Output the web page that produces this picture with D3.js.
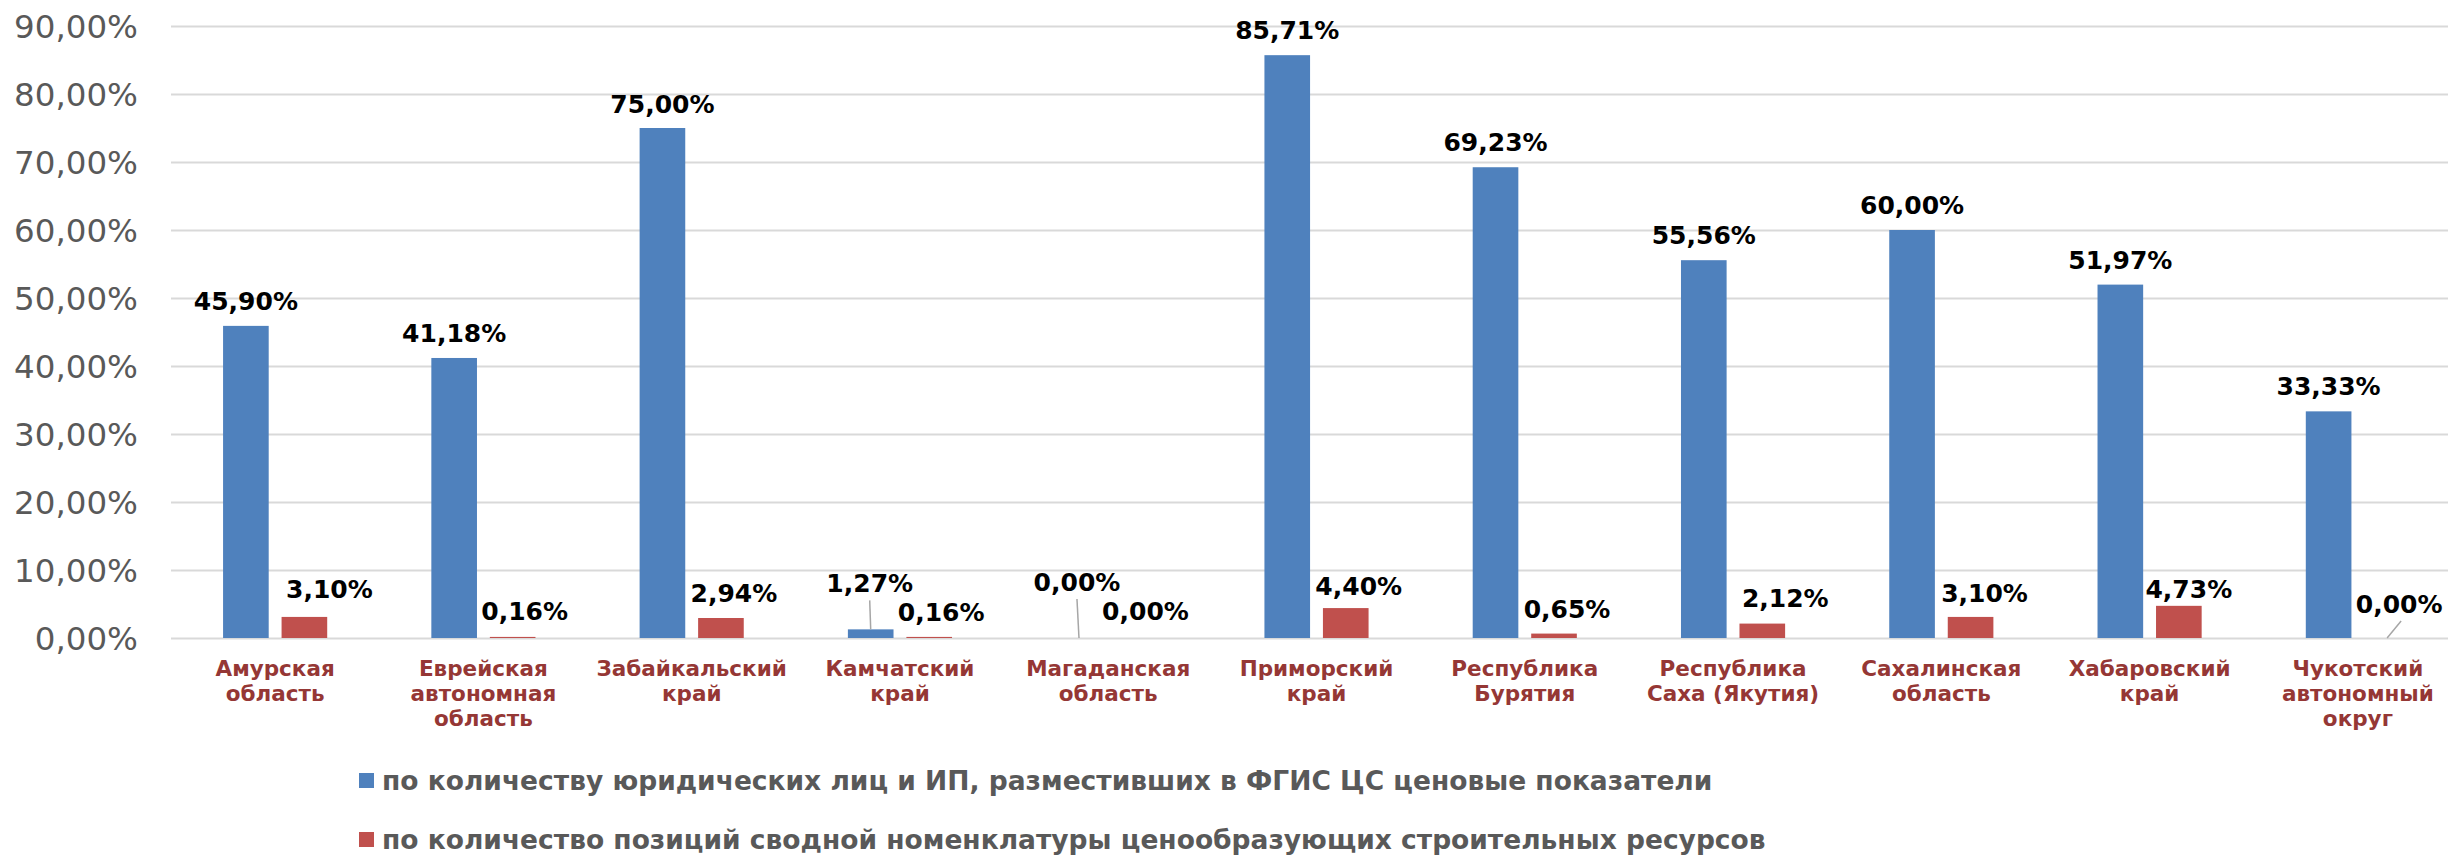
<!DOCTYPE html>
<html>
<head>
<meta charset="utf-8">
<script src="https://cdn.jsdelivr.net/npm/d3@7"></script>
<style>
  body { margin: 0; background: #fff; }
  svg { display: block; }
  svg text { font-family: "DejaVu Sans", Verdana, sans-serif; }
</style>
</head>
<body>
<div class="svg-container"></div>
<script>
// regions (line breaks as in the original axis)
const categories = [
    'Амурская\nобласть',
    'Еврейская\nавтономная\nобласть',
    'Забайкальский\nкрай',
    'Камчатский\nкрай',
    'Магаданская\nобласть',
    'Приморский\nкрай',
    'Республика\nБурятия',
    'Республика\nСаха (Якутия)',
    'Сахалинская\nобласть',
    'Хабаровский\nкрай',
    'Чукотский\nавтономный\nокруг'
];
const seriesNames = [
    'по количеству юридических лиц и ИП, разместивших в ФГИС ЦС ценовые показатели',
    'по количество позиций сводной номенклатуры ценообразующих строительных ресурсов'
];
// values in percent
const legalEntities = [45.90, 41.18, 75.00, 1.27, 0.00, 85.71, 69.23, 55.56, 60.00, 51.97, 33.33];
const resourceItems = [3.10, 0.16, 2.94, 0.16, 0.00, 4.40, 0.65, 2.12, 3.10, 4.73, 0.00];
const yTicks = [0, 10, 20, 30, 40, 50, 60, 70, 80, 90];

const colors = ['#4F81BD', '#C0504D'];

// label nudges [dx, gap above bar top] - labels were moved by hand in the original
const labelNudge = [
    [[0, 16], [0, 16], [0, 15], [-1, 37], [-2, 47], [0, 16], [0, 16], [0, 16], [0, 16], [0, 16], [0, 16]],
    [[25, 19], [12, 17], [13, 16], [12, 16], [8, 18], [13, 13], [13, 16], [23, 17], [14, 15], [10, 8], [12, 25]]
];
// [series, category] labels that have a leader line
const leaders = [[0, 3], [0, 4], [1, 10]];

const width = 2448;
const height = 855;
const plot = { left: 171, right: 2462, top: 26, bottom: 638 };

const locale = d3.formatLocale({ decimal: ',', thousands: ' ', grouping: [3], currency: ['', ''] });
const fmt = (v) => locale.format('.2f')(v) + '%';

const svg = d3.select('.svg-container')
    .append('svg')
    .attr('width', width)
    .attr('height', height);

const y = d3.scaleLinear().domain([0, 90]).range([plot.bottom, plot.top]);
const x0 = d3.scaleBand().domain(categories).range([plot.left, plot.right]).paddingInner(0.5).paddingOuter(0.25);
const x1 = d3.scaleBand().domain([0, 1]).range([0, x0.bandwidth()]).paddingInner(0.22);

// gridlines + y labels
const yAxis = svg.append('g')
    .attr('class', 'y-axis')
    .attr('transform', `translate(${plot.left},0)`)
    .call(d3.axisLeft(y).tickValues(yTicks).tickSize(-(width - plot.left)).tickPadding(33).tickFormat(fmt))
    .attr('font-family', null)
    .attr('font-size', null);
yAxis.select('.domain').remove();
yAxis.selectAll('.tick line').attr('stroke', '#D9D9D9').attr('stroke-width', 2);
yAxis.selectAll('.tick text')
    .attr('fill', '#595959')
    .style('font-size', '32.5px')
    .attr('dy', '0.36em');

// bars
const rows = categories.map((c, i) => ({ cat: c, i: i, vals: [legalEntities[i], resourceItems[i]] }));
const groups = svg.append('g').selectAll('g')
    .data(rows)
    .enter()
    .append('g')
    .attr('transform', (d) => `translate(${x0(d.cat)},0)`);

groups.selectAll('rect')
    .data((d) => d.vals.map((v, s) => ({ v: v, s: s, i: d.i })))
    .enter()
    .append('rect')
    .attr('x', (d) => x1(d.s))
    .attr('width', x1.bandwidth())
    .attr('y', (d) => y(d.v))
    .attr('height', (d) => y(0) - y(d.v))
    .attr('fill', (d) => colors[d.s]);

// leader lines
leaders.forEach(([s, i]) => {
    const v = s === 0 ? legalEntities[i] : resourceItems[i];
    const barX = x0(categories[i]) + x1(s) + x1.bandwidth() / 2;
    const [dx, gap] = labelNudge[s][i];
    const base = y(v) - gap;
    svg.append('line')
        .attr('x1', barX + dx + (s === 1 ? 2 : 0))
        .attr('y1', base + 8)
        .attr('x2', barX)
        .attr('y2', y(v))
        .attr('stroke', '#A6A6A6')
        .attr('stroke-width', 1.5);
});

// data labels
groups.selectAll('text.value')
    .data((d) => d.vals.map((v, s) => ({ v: v, s: s, i: d.i })))
    .enter()
    .append('text')
    .attr('class', 'value')
    .attr('x', (d) => x1(d.s) + x1.bandwidth() / 2 + labelNudge[d.s][d.i][0])
    .attr('y', (d) => y(d.v) - labelNudge[d.s][d.i][1])
    .attr('text-anchor', 'middle')
    .style('font-size', '25px')
    .style('font-weight', 'bold')
    .attr('fill', '#000')
    .text((d) => fmt(d.v));

// x axis (category labels)
const xAxis = svg.append('g')
    .attr('class', 'x-axis')
    .attr('transform', `translate(0,${plot.bottom})`)
    .call(d3.axisBottom(x0).tickSize(0))
    .attr('font-family', null)
    .attr('font-size', null);
xAxis.select('.domain').remove();
xAxis.selectAll('.tick text').each(function (d) {
    const t = d3.select(this);
    t.text(null).attr('y', 0).attr('dy', null)
        .attr('fill', '#953735')
        .style('font-size', '21.5px')
        .style('font-weight', 'bold');
    d.split('\n').forEach((line, k) => {
        t.append('tspan').attr('x', 0).attr('y', 38 + k * 25).text(line);
    });
});

// legend
const legend = svg.append('g').attr('transform', 'translate(359,773)');
seriesNames.forEach((name, s) => {
    const row = legend.append('g').attr('transform', `translate(0,${s * 59})`);
    row.append('rect').attr('width', 15).attr('height', 15).attr('fill', colors[s]);
    row.append('text')
        .attr('x', 23)
        .attr('y', 17)
        .attr('fill', '#595959')
        .style('font-size', '26.5px')
        .style('font-weight', 'bold')
        .text(name);
});
</script>
</body>
</html>
